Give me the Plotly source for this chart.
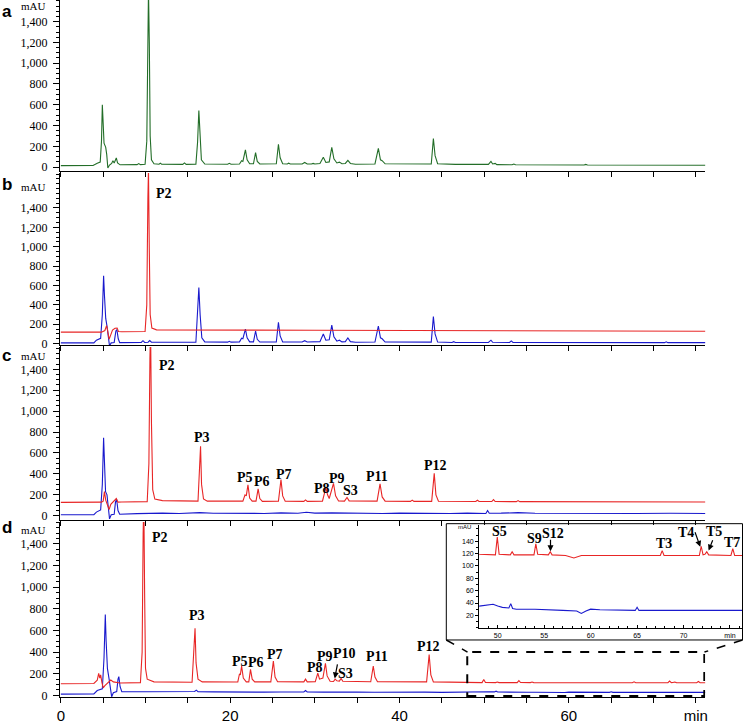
import plotly.graph_objects as go

# (retention time in min, absorbance in mAU)
A_GREEN = [
    (0, 14), (3.8, 15), (4.3, 38), (4.65, 48), (4.8, 250), (4.9, 600), (5.0, 420), (5.1, 230),
    (5.3, 190), (5.42, 120), (5.55, -8), (5.75, 20), (6.0, 35), (6.15, 62), (6.3, 40), (6.45, 70),
    (6.55, 88), (6.7, 40), (7.0, 22), (9.0, 24), (9.2, 34), (9.4, 24),
    (9.95, 28), (10.15, 250), (10.27, 1300), (10.35, 1700), (10.45, 1200), (10.55, 300), (10.7, 70), (11.0, 32),
    (11.6, 28), (11.75, 38), (11.9, 28), (14.4, 26), (14.6, 40), (14.8, 26),
    (15.95, 28), (16.15, 240), (16.3, 545), (16.42, 300), (16.6, 70), (17.0, 30),
    (19.7, 28), (19.9, 36), (20.1, 28),
    (21.1, 30), (21.35, 62), (21.5, 55), (21.8, 165), (22.0, 70), (22.3, 32),
    (22.75, 32), (23.0, 140), (23.2, 55), (23.5, 30),
    (25.45, 32), (25.7, 220), (25.9, 90), (26.2, 32), (26.75, 30), (26.9, 38), (27.1, 30),
    (28.5, 30), (28.8, 45), (29.1, 30), (29.6, 30), (29.8, 36), (30.0, 30),
    (30.6, 34), (31.0, 95), (31.3, 45), (31.7, 50), (32.0, 190), (32.25, 80), (32.6, 40), (32.9, 48),
    (33.2, 32), (33.6, 35), (33.9, 64), (34.2, 35), (34.8, 28),
    (37.1, 30), (37.5, 180), (37.75, 70), (37.95, 62), (38.3, 32),
    (41.7, 28), (41.9, 34), (42.1, 28), (43.75, 30), (44.0, 275), (44.2, 110), (44.5, 32),
    (46.2, 26), (46.4, 32), (46.6, 26), (50.5, 26), (50.8, 55), (51.0, 30), (51.3, 36), (51.5, 24),
    (53.3, 22), (53.5, 30), (53.7, 22), (61.8, 20), (62.0, 26), (62.2, 20),
    (71.3, 18), (71.5, 24), (71.7, 18), (76.4, 18),
]

B_BLUE = [
    (0, 8), (3.9, 8), (4.2, 35), (4.7, 55), (4.9, 300), (5.05, 700), (5.15, 500), (5.3, 260),
    (5.45, 180), (5.6, 50), (5.75, -25), (5.95, 8), (6.3, 12), (6.5, 130), (6.62, 145), (6.78, 50), (6.95, 10),
    (9.5, 12), (9.7, 30), (9.9, 12), (10.3, 14), (10.5, 32), (10.7, 14),
    (15.95, 14), (16.15, 280), (16.3, 580), (16.45, 300), (16.65, 60), (17.0, 18),
    (19.7, 15), (19.9, 24), (20.1, 15),
    (21.1, 18), (21.35, 55), (21.5, 50), (21.8, 150), (22.0, 60), (22.3, 18),
    (22.75, 18), (23.0, 130), (23.2, 45), (23.5, 16),
    (25.45, 18), (25.7, 220), (25.9, 80), (26.2, 18), (28.5, 16), (28.8, 30), (29.1, 16),
    (30.6, 20), (31.0, 100), (31.3, 35), (31.7, 40), (32.0, 190), (32.25, 70), (32.6, 25), (32.9, 35),
    (33.2, 18), (33.6, 20), (33.9, 58), (34.2, 20), (34.8, 14),
    (37.1, 16), (37.5, 180), (37.75, 60), (37.95, 50), (38.3, 16),
    (43.75, 15), (44.0, 280), (44.2, 100), (44.5, 16), (46.2, 12), (46.4, 20), (46.6, 12),
    (50.5, 12), (50.8, 35), (51.0, 14), (53.0, 12), (53.2, 28), (53.4, 12),
    (71.3, 10), (71.5, 18), (71.7, 10), (76.4, 10),
]

B_RED = [
    (0, 118), (4.8, 118), (5.2, 135), (5.4, 185), (5.5, 150), (5.7, 45), (5.85, 80), (6.1, 140),
    (6.4, 158), (6.65, 160), (6.8, 125), (7.2, 122),
    (9.95, 125), (10.15, 400), (10.28, 1500), (10.35, 1800), (10.45, 950), (10.55, 300), (10.75, 160), (11.3, 142),
    (30, 138), (50, 132), (76.4, 128),
]

C_BLUE = [
    (0, 10), (3.9, 10), (4.2, 35), (4.7, 55), (4.9, 300), (5.05, 745), (5.15, 520), (5.28, 230),
    (5.45, 200), (5.6, 60), (5.75, -30), (5.95, 10), (6.3, 14), (6.45, 130), (6.58, 160), (6.75, 50), (6.95, 14),
    (9.0, 20), (10.0, 22), (12.0, 25), (14, 22), (16.4, 30), (18, 24), (20, 22), (22, 26), (24, 22),
    (26, 28), (28, 24), (29, 34), (30, 25), (32, 28), (34, 24), (36, 26), (38, 22), (40, 25), (42, 23),
    (44, 26), (46, 22), (48, 25), (50.2, 22), (50.4, 50), (50.6, 24), (52, 25), (54, 30), (56, 24),
    (60, 22), (64, 24), (68, 22), (72, 24), (76.4, 22),
]

C_RED = [
    (0, 128), (4.8, 130), (5.0, 140), (5.15, 230), (5.3, 150), (5.55, 80), (5.7, 60), (5.9, 110),
    (6.3, 150), (6.55, 165), (6.75, 130), (7.2, 132),
    (10.2, 135), (10.4, 500), (10.52, 1500), (10.6, 1800), (10.7, 900), (10.85, 250), (11.1, 160), (12, 145),
    (16.2, 140), (16.38, 400), (16.5, 665), (16.62, 300), (16.85, 160), (17.3, 140),
    (21.5, 140), (21.75, 200), (21.9, 190), (22.1, 295), (22.3, 170), (22.6, 140),
    (23.05, 140), (23.3, 257), (23.5, 165), (23.8, 138),
    (25.7, 140), (26.0, 345), (26.2, 190), (26.5, 140), (28.7, 138), (28.9, 152), (29.1, 138),
    (30.9, 140), (31.3, 270), (31.5, 200), (31.7, 165), (32.2, 310), (32.45, 190), (32.8, 142),
    (33.5, 140), (33.8, 175), (34.05, 142),
    (37.35, 140), (37.7, 305), (37.95, 180), (38.3, 140), (41.3, 138), (41.5, 150), (41.7, 138),
    (43.8, 138), (44.1, 405), (44.3, 200), (44.6, 138),
    (49.0, 136), (49.2, 148), (49.4, 136), (50.9, 136), (51.1, 155), (51.3, 136),
    (53.8, 135), (54.0, 145), (54.2, 135), (76.4, 132),
]

D_BLUE = [
    (0, 12), (3.9, 14), (4.3, 45), (4.9, 60), (5.1, 350), (5.25, 748), (5.35, 500), (5.5, 250),
    (5.7, 150), (5.85, 40), (6.0, -12), (6.2, 25), (6.6, 35), (6.75, 150), (6.85, 173), (7.0, 80), (7.2, 35),
    (10, 33), (12, 35), (14, 32), (15.8, 36), (16, 48), (16.2, 34), (18, 32), (20, 30), (22, 33),
    (24, 30), (26, 31), (28.7, 32), (28.9, 45), (29.1, 32), (31, 30), (33, 33), (35, 30), (37, 29),
    (39, 31), (41, 28), (43, 30), (45, 28), (47, 31),
    (48, 35), (49, 37), (49.5, 38), (50, 35), (50.5, 33), (51.2, 32), (51.4, 39), (51.6, 31), (52, 30),
    (54, 30), (55, 29), (56, 29), (57, 28), (58.5, 27), (59, 23), (59.5, 27), (60, 30), (61, 29),
    (63, 28), (64.8, 28), (65.0, 33), (65.2, 28), (68, 28), (72, 28), (76.4, 28),
]

D_RED = [
    (0, 108), (3.9, 110), (4.3, 140), (4.47, 203), (4.6, 160), (4.7, 190), (4.85, 120), (5.0, 70),
    (5.2, 90), (5.6, 120), (5.9, 142), (6.2, 125), (7, 115),
    (9.4, 118), (9.6, 400), (9.72, 1500), (9.8, 1800), (9.9, 900), (10.0, 250), (10.2, 150), (11, 125),
    (15.5, 122), (15.7, 350), (15.85, 620), (15.97, 300), (16.2, 150), (16.7, 125),
    (20.9, 124), (21.1, 200), (21.2, 190), (21.35, 272), (21.55, 160), (21.9, 125),
    (22.2, 125), (22.4, 240), (22.6, 150), (22.9, 125),
    (24.8, 125), (25.1, 318), (25.3, 170), (25.6, 126), (28.7, 125), (28.9, 150), (29.1, 125),
    (30.05, 126), (30.35, 206), (30.55, 150), (30.95, 160), (31.25, 297), (31.45, 180), (31.8, 130),
    (32.2, 128), (32.4, 150), (32.6, 135), (32.9, 132), (33.1, 157), (33.3, 130),
    (36.6, 126), (36.9, 272), (37.1, 170), (37.4, 126),
    (43.2, 125), (43.5, 378), (43.7, 190), (44.0, 125),
    (48, 119), (49.75, 118), (49.95, 147), (50.15, 119), (51.35, 118), (51.55, 123), (51.75, 118),
    (53.9, 118), (54.1, 136), (54.3, 119), (55.45, 118), (55.65, 123), (55.85, 118),
    (57.3, 117), (58.2, 113), (59.0, 117), (60, 117), (67.5, 117), (67.7, 125), (67.9, 117),
    (71.7, 117), (71.9, 132), (72.1, 118), (72.3, 119), (72.5, 123), (72.7, 118),
    (75.1, 117), (75.3, 128), (75.5, 117), (76.4, 117),
]

Y_TICKS = [0, 200, 400, 600, 800, 1000, 1200, 1400]
Y_TICK_TEXT = ["0", "200", "400", "600", "800", "1,000", "1,200", "1,400"]
X_TICKS = [0, 20, 40, 60, 75]
X_TICK_TEXT = ["0", "20", "40", "60", "min"]
INSET_X_TICKS = [50, 55, 60, 65, 70, 75]
INSET_X_TEXT = ["50", "55", "60", "65", "70", "min"]
INSET_Y_TICKS = [20, 40, 60, 80, 100, 120, 140]

# peak labels: (text, time, mAU)
B_LABELS = [("P2", 12.15, 1545)]
C_LABELS = [("P2", 12.5, 1433), ("P3", 16.7, 750), ("P5", 21.7, 363), ("P6", 23.7, 332),
            ("P7", 26.4, 395), ("P8", 30.9, 264), ("P9", 32.6, 358), ("S3", 34.2, 238),
            ("P11", 37.3, 372), ("P12", 44.2, 482)]
D_LABELS = [("P2", 11.7, 1460), ("P3", 16.1, 740), ("P5", 21.1, 315), ("P6", 23.0, 300),
            ("P7", 25.3, 375), ("P8", 29.96, 254), ("P9", 31.2, 363), ("P10", 33.5, 385),
            ("S3", 33.6, 203), ("P11", 37.3, 360), ("P12", 43.4, 455)]
INSET_LABELS = [("S5", 50.2, 156), ("S9", 54.0, 145), ("S12", 55.94, 152.5), ("T3", 67.9, 136),
                ("T4", 70.3, 154), ("T5", 73.3, 156), ("T7", 75.2, 138)]
# arrows: (head time, head mAU, tail time, tail mAU)
D_ARROWS = [(32.35, 157, 32.7, 300)]
INSET_ARROWS = [(55.68, 124, 55.68, 145), (71.8, 131, 71.18, 157), (72.7, 125, 73.2, 144)]

RED = "rgb(232,38,38)"
BLUE = "rgb(25,25,205)"
GREEN = "rgb(35,110,40)"

W, H = 746, 724
ML, MB = 60, 15
PW, PH = W - ML, H - MB


def px(x):
    return (x - ML) / PW


def py(y):
    return 1 - y / PH


# pixel extents of the panels and their y ranges
PANEL_PX = [(0, 174), (176, 351), (353, 529), (531, 709)]
Y_RANGES = [[-38, 1608], [-15, 1761], [-41, 1613], [-15, 1603]]
MAU_AT = [1551, 1612, 1523, 1527]
LETTER_Y = [0, 188, 362, 537]
X_RANGE = [-0.1, 76.1]

panel_traces = [
    [(A_GREEN, GREEN)],
    [(B_BLUE, BLUE), (B_RED, RED)],
    [(C_BLUE, BLUE), (C_RED, RED)],
    [(D_BLUE, BLUE), (D_RED, RED)],
]

fig = go.Figure()
tickfont_y = dict(family="Liberation Serif", size=12, color="black")
labfont = dict(family="Liberation Serif", size=14, color="black")

for i, traces in enumerate(panel_traces):
    n = "" if i == 0 else str(i + 1)
    for pts, col in traces:
        fig.add_trace(go.Scatter(
            x=[p[0] for p in pts], y=[p[1] for p in pts], mode="lines",
            line=dict(color=col, width=1.1), xaxis="x" + n, yaxis="y" + n,
            hoverinfo="skip"))
    top, bot = PANEL_PX[i]
    xa = dict(domain=[0, px(708)], range=X_RANGE, anchor="y" + n,
              showline=True, linecolor="black", linewidth=1.2, showgrid=False, zeroline=False,
              ticks="outside", ticklen=5, tickcolor="black",
              minor=dict(dtick=5, tick0=0, ticks="outside", ticklen=5, tickcolor="black"))
    if i == 3:
        xa.update(tickvals=X_TICKS, ticktext=X_TICK_TEXT,
                  tickfont=dict(family="Liberation Sans", size=15, color="black"))
    else:
        xa.update(dtick=5, tick0=0, showticklabels=False)
    ya = dict(domain=[py(bot), py(top)], range=Y_RANGES[i], anchor="x" + n,
              showline=True, linecolor="black", linewidth=1.2, showgrid=False, zeroline=False,
              ticks="outside", ticklen=6, tickcolor="black", tickvals=Y_TICKS, ticktext=Y_TICK_TEXT,
              tickfont=tickfont_y, ticklabelstandoff=3,
              minor=dict(dtick=50, tick0=0, ticks="outside", ticklen=3, tickcolor="black"))
    fig.layout["xaxis" + n] = xa
    fig.layout["yaxis" + n] = ya
    fig.add_annotation(text="mAU", xref="paper", yref="y" + n, x=px(48), y=MAU_AT[i],
                       xanchor="right", yanchor="middle", showarrow=False,
                       font=dict(family="Liberation Serif", size=11, color="black"))
    fig.add_annotation(text="<b>%s</b>" % "abcd"[i], xref="paper", yref="paper",
                       x=px(0), y=py(LETTER_Y[i]), xanchor="left",
                       yanchor="top" if i == 0 else "middle",
                       showarrow=False, font=dict(family="Liberation Sans", size=17, color="black"))

for k, labels in [("2", B_LABELS), ("3", C_LABELS), ("4", D_LABELS)]:
    for txt, t, v in labels:
        fig.add_annotation(text="<b>%s</b>" % txt, x=t, y=v, xref="x" + k, yref="y" + k,
                           showarrow=False, font=labfont, xanchor="center", yanchor="middle")
for hx, hy, tx, ty in D_ARROWS:
    fig.add_annotation(text="", x=hx, y=hy, ax=tx, ay=ty, xref="x4", yref="y4",
                       axref="x4", ayref="y4", showarrow=True, arrowhead=2, arrowsize=1,
                       arrowwidth=1.2, arrowcolor="black")

# inset: zoom on panel d
for pts, col in [(D_BLUE, BLUE), (D_RED, RED)]:
    fig.add_trace(go.Scatter(
        x=[p[0] for p in pts], y=[p[1] for p in pts], mode="lines",
        line=dict(color=col, width=1.1), xaxis="x5", yaxis="y5", hoverinfo="skip"))
fig.layout["xaxis5"] = dict(
    domain=[px(481), 1.0], range=[48, 76.4], anchor="y5", showline=True, linecolor="black",
    linewidth=1, showgrid=False, zeroline=False, ticks="inside", ticklen=3, tickcolor="black",
    tickvals=INSET_X_TICKS, ticktext=INSET_X_TEXT,
    tickfont=dict(family="Liberation Sans", size=7, color="black"),
    minor=dict(dtick=1, tick0=0, ticks="inside", ticklen=2, tickcolor="black"))
fig.layout["yaxis5"] = dict(
    domain=[py(639), py(534)], range=[-0.8, 166.5], anchor="x5", showline=True,
    linecolor="black", linewidth=1, showgrid=False, zeroline=False, ticks="outside",
    ticklen=3, tickcolor="black", tickvals=INSET_Y_TICKS,
    tickfont=dict(family="Liberation Sans", size=7, color="black"),
    minor=dict(dtick=10, tick0=0, ticks="outside", ticklen=2, tickcolor="black"))
fig.add_annotation(text="mAU", xref="paper", yref="y5", x=px(475), y=164, xanchor="right",
                   yanchor="middle", showarrow=False,
                   font=dict(family="Liberation Sans", size=6, color="black"))
for txt, t, v in INSET_LABELS:
    fig.add_annotation(text="<b>%s</b>" % txt, x=t, y=v, xref="x5", yref="y5",
                       showarrow=False, font=labfont, xanchor="center", yanchor="middle")
for hx, hy, tx, ty in INSET_ARROWS:
    fig.add_annotation(text="", x=hx, y=hy, ax=tx, ay=ty, xref="x5", yref="y5",
                       axref="x5", ayref="y5", showarrow=True, arrowhead=2, arrowsize=1,
                       arrowwidth=1.2, arrowcolor="black")

# frame of the inset, dashed zoom box and connectors
fig.add_shape(type="rect", xref="paper", yref="paper", x0=px(448), x1=px(745.5),
              y0=py(651), y1=py(532.7), line=dict(color="black", width=1))
fig.add_shape(type="rect", xref="x4", yref="y4", x0=48, x1=76.0, y0=-5, y1=400,
              line=dict(color="black", width=2, dash="dash"))
fig.add_shape(type="line", xref="paper", yref="paper", x0=px(448), y0=py(651),
              x1=px(469.3), y1=py(663.3), line=dict(color="black", width=1.5, dash="dash"))
fig.add_shape(type="line", xref="paper", yref="paper", x0=px(745.5), y0=py(651),
              x1=px(707.3), y1=py(663.3), line=dict(color="black", width=1.5, dash="dash"))

fig.update_layout(
    width=W, height=H, margin=dict(l=ML, r=0, t=0, b=MB),
    plot_bgcolor="white", paper_bgcolor="white", showlegend=False,
)
# the page body keeps its default 8px margin otherwise
fig.write_html("out.html", config={"displayModeBar": False},
               post_script="document.body.style.margin = '0';")
